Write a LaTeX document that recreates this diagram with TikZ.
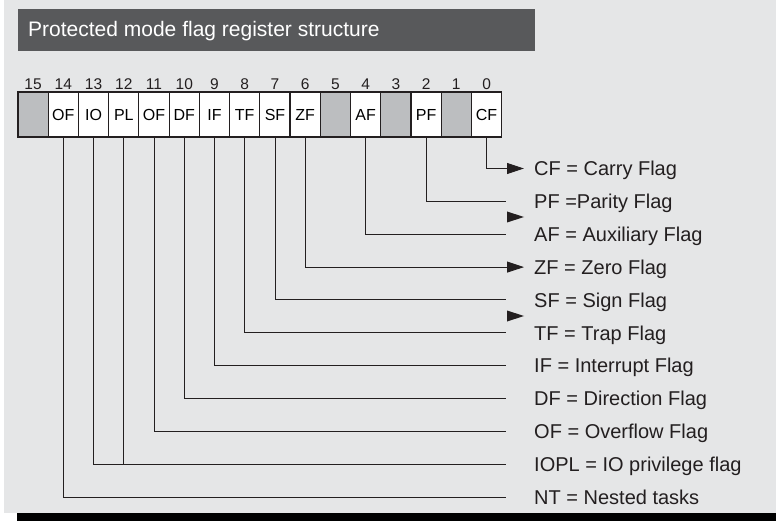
\documentclass[tikz,border=0pt]{standalone}
\usepackage{fontspec}
\setmainfont{Liberation Sans}
\usetikzlibrary{arrows.meta}

\definecolor{bggray}{HTML}{E5E6E7}
\definecolor{bargray}{HTML}{58595B}
\definecolor{cellgray}{HTML}{BCBEC0}
\definecolor{ink}{HTML}{231F20}

\tikzset{
    cell/.style={draw=ink, line width=1.2pt, fill=white, minimum width=30.23pt, minimum height=45pt, inner sep=0pt, font=\fontsize{16}{16}\selectfont, text height=11.5pt, text depth=0pt},
    unused/.style={cell, fill=cellgray},
    num/.style={font=\fontsize{15.5}{16}\selectfont, inner sep=0pt, text=ink},
    flag/.style={anchor=west, inner sep=0pt, font=\fontsize{20}{22}\selectfont, text height=14.5pt, text depth=0pt, text=ink},
    lead/.style={draw=ink, line width=1pt}
}

\begin{document}
\begin{tikzpicture}[x=1pt, y=-1pt, >={Triangle[length=17pt,width=11pt]}, label distance=1.5pt]
        \useasboundingbox (0,0) rectangle (776,521);
        \fill[bggray] (4,0) rectangle (776,512.5);
        \fill[black] (17,513) rectangle (776,521);

        % title bar
        \fill[bargray] (18,9) rectangle (535,51);
        \node (title) [anchor=west, inner sep=0pt, text=white, font=\fontsize{21}{24}\selectfont, text height=15pt, text depth=0pt] at (28,29) {Protected mode flag register structure};

        % register cells
        \node (b15) [unused, label={[num]above:15}] at (33.1,114.5) {};
        \node (b14) [cell, label={[num]above:14}] at (63.3,114.5) {OF};
        \node (b13) [cell, label={[num]above:13}] at (93.6,114.5) {IO};
        \node (b12) [cell, label={[num]above:12}] at (123.8,114.5) {PL};
        \node (b11) [cell, label={[num]above:11}] at (154.0,114.5) {OF};
        \node (b10) [cell, label={[num]above:10}] at (184.3,114.5) {DF};
        \node (b9) [cell, label={[num]above:9}] at (214.5,114.5) {IF};
        \node (b8) [cell, label={[num]above:8}] at (244.7,114.5) {TF};
        \node (b7) [cell, label={[num]above:7}] at (275.0,114.5) {SF};
        \node (b6) [cell, label={[num]above:6}] at (305.2,114.5) {ZF};
        \node (b5) [unused, label={[num]above:5}] at (335.4,114.5) {};
        \node (b4) [cell, label={[num]above:4}] at (365.6,114.5) {AF};
        \node (b3) [unused, label={[num]above:3}] at (395.9,114.5) {};
        \node (b2) [cell, label={[num]above:2}] at (426.1,114.5) {PF};
        \node (b1) [unused, label={[num]above:1}] at (456.3,114.5) {};
        \node (b0) [cell, label={[num]above:0}] at (486.6,114.5) {CF};

        % flag names
        \node (cf) [flag] at (534,168.5) {CF = Carry Flag};
        \node (pf) [flag] at (534,201.4) {PF =Parity Flag};
        \node (af) [flag] at (534,234.2) {AF = Auxiliary Flag};
        \node (zf) [flag] at (534,267.1) {ZF = Zero Flag};
        \node (sf) [flag] at (534,299.9) {SF = Sign Flag};
        \node (tf) [flag] at (534,332.8) {TF = Trap Flag};
        \node (intf) [flag] at (534,365.6) {IF = Interrupt Flag};
        \node (df) [flag] at (534,398.5) {DF = Direction Flag};
        \node (of) [flag] at (534,431.3) {OF = Overflow Flag};
        \node (iopl) [flag] at (534,464.2) {IOPL = IO privilege flag};
        \node (nt) [flag] at (534,497) {NT = Nested tasks};

        % leads
        \draw[lead, ->] (b0.south) |- ([xshift=-10pt]cf.west);
        \draw[lead] (b2.south) |- ([xshift=-28pt]pf.west);
        \draw[lead] (b4.south) |- ([xshift=-28pt]af.west);
        \draw[lead, ->] (b6.south) |- ([xshift=-10pt]zf.west);
        \draw[lead] (b7.south) |- ([xshift=-28pt]sf.west);
        \draw[lead] (b8.south) |- ([xshift=-28pt]tf.west);
        \draw[lead] (b9.south) |- ([xshift=-28pt]intf.west);
        \draw[lead] (b10.south) |- ([xshift=-28pt]df.west);
        \draw[lead] (b11.south) |- ([xshift=-28pt]of.west);
        \draw[lead] (b13.south) |- ([xshift=-28pt]iopl.west);
        \draw[lead] (b12.south) -- (b12.south |- iopl.west);
        \draw[lead] (b14.south) |- ([xshift=-28pt]nt.west);

        % loose arrow heads
        \fill[ink] (507,211.5) -- (524,217) -- (507,222.5) -- cycle;
        \fill[ink] (507,310.5) -- (524,316) -- (507,321.5) -- cycle;
    \end{tikzpicture}
\end{document}
